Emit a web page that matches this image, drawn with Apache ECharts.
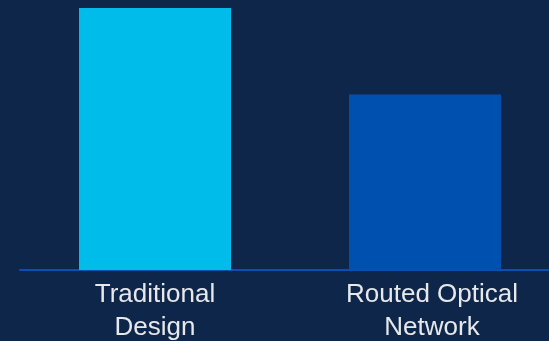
<!DOCTYPE html>
<html>
<head>
<meta charset="utf-8">
<script src="https://cdn.jsdelivr.net/npm/echarts@6/dist/echarts.min.js"></script>
<style>
  html, body { margin: 0; padding: 0; background: #0e264a; }
  #chart { width: 549px; height: 341px; }
</style>
</head>
<body>
<div id="chart"></div>
<script>
const categories = ['Traditional\nDesign', 'Routed Optical\nNetwork']
const values = [100, 67]
const barColors = ['#00bceb', '#0051af']

const labelFont = {
  color: '#e6e8ec',
  fontFamily: 'Liberation Sans, Arial, sans-serif',
  fontSize: 26,
  lineHeight: 33,
}

const chart = echarts.init(document.getElementById('chart'))
chart.setOption({
  backgroundColor: '#0e264a',
  animation: false,
  grid: { left: 20, top: 8, right: -11, bottom: 71, outerBoundsMode: 'none', containLabel: false },
  xAxis: {
    type: 'category',
    data: categories,
    axisLine: { lineStyle: { color: '#0a4fb3', width: 2 } },
    axisTick: { show: false },
    axisLabel: {
      ...labelFont,
      margin: 8,
      formatter: (v, i) => v.split('\n').map((s) => `{${i === 1 ? 'r' : 'l'}|${s}}`).join('\n'),
      rich: {
        l: { ...labelFont },
        r: { ...labelFont, padding: [0, 0, 0, 14] },
      },
    },
  },
  yAxis: {
    type: 'value',
    min: 0,
    max: 100,
    show: false,
    splitLine: { show: false },
  },
  series: [{
    type: 'bar',
    barWidth: 152,
    data: values.map((v, i) => ({ value: v, itemStyle: { color: barColors[i] } })),
  }],
})
</script>
</body>
</html>
